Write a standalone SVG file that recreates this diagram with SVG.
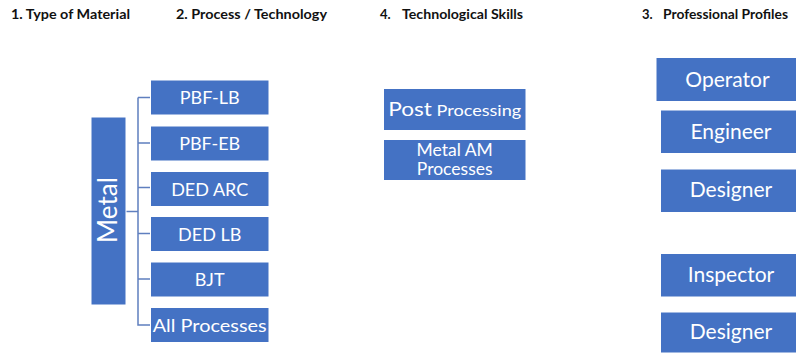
<svg xmlns="http://www.w3.org/2000/svg" width="796" height="354" viewBox="0 0 796 354">
<style>
.box{fill:#4472C4;stroke:#ffffff;stroke-width:1}
.t{font-family:Lato,"Open Sans","Liberation Sans",sans-serif;fill:#ffffff;text-anchor:middle}
.p{font-size:18px}
.r{font-size:21px}
.h{font-family:Lato,"Open Sans","Liberation Sans",sans-serif;font-weight:bold;font-size:13px;fill:#111111}
.c{fill:none;stroke:#5F7FBF;stroke-width:1.5}
</style>
<rect width="796" height="354" fill="#ffffff"/>
<g id="headers">
<text class="h" x="11" y="19" textLength="119" lengthAdjust="spacingAndGlyphs">1. Type of Material</text>
<text class="h" x="176" y="19" textLength="151" lengthAdjust="spacingAndGlyphs">2. Process / Technology</text>
<text class="h" x="380" y="19">4.</text>
<text class="h" x="402" y="19" textLength="121" lengthAdjust="spacingAndGlyphs">Technological Skills</text>
<text class="h" x="642" y="19">3.</text>
<text class="h" x="663" y="19" textLength="125" lengthAdjust="spacingAndGlyphs">Professional Profiles</text>
</g>
<g id="connectors">
<path class="c" d="M126 211.5 H138 M138 97.5 V325 H150 M138 97.5 H150 M138 143 H150 M138 187.5 H150 M138 233.5 H150 M138 279 H150"/>
</g>
<g id="metal">
<rect class="box" x="91" y="117" width="35" height="188"/>
<text class="t" transform="translate(117 210) rotate(-90)" font-size="26" x="0" y="0">Metal</text>
</g>
<g id="pbf-lb"><rect class="box" x="150.5" y="80" width="118.5" height="35"/><text class="t p" x="209.7" y="104">PBF-LB</text></g>
<g id="pbf-eb"><rect class="box" x="150.5" y="126" width="118.5" height="35"/><text class="t p" x="209.7" y="150">PBF-EB</text></g>
<g id="ded-arc"><rect class="box" x="150.5" y="171.5" width="118.5" height="35"/><text class="t p" x="209.7" y="195.5">DED ARC</text></g>
<g id="ded-lb"><rect class="box" x="150.5" y="216.5" width="118.5" height="35"/><text class="t p" x="209.7" y="240.5">DED LB</text></g>
<g id="bjt"><rect class="box" x="150.5" y="262" width="118.5" height="35"/><text class="t p" x="209.7" y="286">BJT</text></g>
<g id="all-processes"><rect class="box" x="150.5" y="307.5" width="118.5" height="35"/><text class="t p" x="209.7" y="331.5" textLength="114" lengthAdjust="spacingAndGlyphs">All Processes</text></g>
<g id="post-processing"><rect class="box" x="383.5" y="88.5" width="142.5" height="42"/><text class="t" x="454.7" y="115.5" textLength="133" lengthAdjust="spacingAndGlyphs"><tspan font-size="20">Post</tspan><tspan font-size="16"> Processing</tspan></text></g>
<g id="metal-am"><rect class="box" x="383.5" y="139.5" width="142.5" height="41"/><text class="t" x="454.7" y="156" font-size="17.5">Metal AM</text><text class="t" x="454.7" y="175" font-size="17.5">Processes</text></g>
<g id="operator"><rect class="box" x="656" y="57.5" width="145" height="44"/><text class="t r" x="727.5" y="86.5">Operator</text></g>
<g id="engineer"><rect class="box" x="660.5" y="110" width="140" height="43.5"/><text class="t r" x="731" y="138.5">Engineer</text></g>
<g id="designer1"><rect class="box" x="660.5" y="169" width="140" height="43.5"/><text class="t r" x="731" y="197">Designer</text></g>
<g id="inspector"><rect class="box" x="660.5" y="253.5" width="140" height="43.5"/><text class="t r" x="731" y="281.5">Inspector</text></g>
<g id="designer2"><rect class="box" x="660.5" y="312" width="140" height="41"/><text class="t r" x="731" y="339">Designer</text></g>
</svg>
